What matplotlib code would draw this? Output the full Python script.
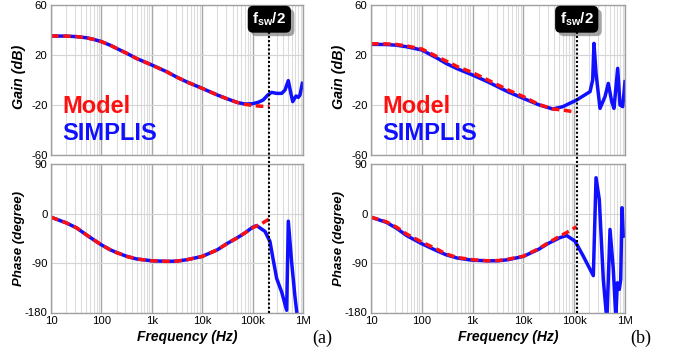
import numpy as np
import matplotlib
matplotlib.use("Agg")
import matplotlib.pyplot as plt
from matplotlib.lines import Line2D
from matplotlib import transforms, patheffects
from matplotlib.ticker import LogLocator, FixedLocator, FixedFormatter, NullFormatter

plt.rcParams['font.family'] = ['Liberation Sans', 'DejaVu Sans']
plt.rcParams['mathtext.fontset'] = 'custom'
plt.rcParams['mathtext.rm'] = 'Liberation Sans'
plt.rcParams['mathtext.bf'] = 'Liberation Sans:bold'

# ---------------- data: panel (a) ----------------
a_model_f = [10, 20, 32, 50, 70, 100, 150, 200, 320, 500, 1e3, 2e3, 3.2e3, 5e3, 1e4, 2e4, 3.2e4, 5e4, 7e4, 1e5, 1.5e5, 2.15e5]
a_model_gain = [35.2, 35.1, 34.7, 33.8, 32.5, 30.7, 27.8, 25.3, 21.3, 17.2, 12.0, 6.5, 2.1, -1.6, -6.7, -12.0, -15.2, -18.0, -19.4, -20.4, -21.0, -21.3]
a_model_phase = [-6.7, -17, -26, -38.6, -47.7, -57, -66, -71, -78, -82.7, -86, -87, -86.5, -84, -78, -66, -54, -44, -35.5, -26, -18.4, -10]

a_sim_gain_f = [10, 20, 32, 50, 70, 100, 150, 200, 320, 500, 1e3, 2e3, 3.2e3, 5e3, 1e4, 2e4, 3.2e4, 5e4, 7e4,
                1e5, 1.3e5, 1.62e5, 2e5, 2.39e5, 3e5, 3.78e5, 4.4e5, 5.11e5, 5.7e5, 6.25e5, 7.27e5, 8.07e5, 8.71e5, 9.69e5]
a_sim_gain = [35.2, 35.1, 34.7, 33.8, 32.5, 30.7, 27.8, 25.3, 21.3, 17.2, 12.0, 6.5, 2.1, -1.6, -6.7, -12.0, -15.2, -18.0, -19.2,
              -19.0, -17.8, -16.0, -12.0, -9.9, -10.7, -10.7, -8.0, -0.5, -10.0, -17.3, -12.8, -13.9, -12.0, -2.7]
a_sim_phase_f = [10, 20, 32, 50, 70, 100, 150, 200, 320, 500, 1e3, 2e3, 3.2e3, 5e3, 1e4, 2e4, 3.2e4, 5e4, 7e4,
                 1e5, 1.2e5, 1.76e5, 2.21e5, 2.57e5, 3e5, 3.78e5, 4.74e5, 5.11e5, 5.97e5, 6.94e5, 8e5]
a_sim_phase = [-6.7, -17, -26, -38.6, -47.7, -57, -66, -71, -78, -82.7, -86, -87, -86.5, -84, -78, -66, -54, -44, -35.5,
               -25, -22, -32.5, -51, -84.5, -118, -143, -176, -14, -90, -152, -200]
a_fsw_half = 2.15e5

# ---------------- data: panel (b) ----------------
b_model_f = [10, 20, 32, 50, 100, 200, 300, 500, 1e3, 2e3, 5e3, 1e4, 2e4, 3.8e4, 6e4, 1.12e5]
b_model_gain = [29.0, 28.9, 28.4, 27.3, 24.8, 18.7, 15.2, 10.7, 5.9, 0.0, -8.0, -13.3, -19.5, -23.2, -24.0, -25.9]
b_model_phase_f = [10, 20, 32, 50, 100, 200, 300, 500, 1e3, 2e3, 3.2e3, 5e3, 1e4, 2e4, 3e4, 5e4, 7e4, 1.12e5]
b_model_phase = [-6.7, -15, -25, -37.3, -52, -65, -73.5, -80, -84, -86, -85.5, -83, -77.6, -64, -54, -42, -35, -24]

b_sim_gain_f = [10, 20, 32, 50, 100, 200, 300, 500, 1e3, 2e3, 5e3, 1e4, 2e4, 2.4e4, 3.8e4, 6e4, 1.12e5,
                2.05e5, 2.31e5, 2.45e5, 2.69e5, 3.22e5, 4.04e5, 4.69e5, 5.47e5, 6.07e5, 7.18e5, 7.98e5, 9.02e5, 1e6]
b_sim_gain = [28.5, 28.4, 27.8, 26.6, 24.0, 17.5, 13.3, 9.0, 4.0, -1.5, -9.5, -14.7, -19.8, -20.8, -23.2, -21.3, -16.0,
              -9.3, 0.0, 29.3, 5.3, -22.7, -13.3, -2.7, -17.3, -22.7, 9.3, -20.0, -21.3, -1.3]
b_sim_phase_f = [10, 20, 32, 50, 100, 200, 300, 500, 1e3, 2e3, 3.2e3, 5e3, 1e4, 2e4, 3e4, 5.2e4, 7.1e4,
                 1.04e5, 1.51e5, 2.38e5, 2.69e5, 3.12e5, 3.74e5, 4.4e5, 5.07e5, 5.89e5, 6.6e5, 7.06e5, 7.73e5, 8.23e5, 8.73e5, 9.27e5]
b_sim_phase = [-6.7, -16, -27, -40, -55, -68, -75, -81, -85, -86, -86, -84, -78, -65, -55, -44, -40,
               -50.4, -77.6, -113, 65, 25.5, -120, -195, -29, -102, -190, -126, -138, -120, 10.5, -41]
b_fsw_half = 1.12e5

xticks = [10, 100, 1e3, 1e4, 1e5, 1e6]
xticklabels = ["10", "100", "1k", "10k", "100k", "1M"]
gain_ticks = [-60, -20, 20, 60]
phase_ticks = [-180, -90, 0, 90]

W, H = 686, 351
fig = plt.figure(figsize=(W / 100, H / 100), dpi=100)

BLUE = '#1010ff'
RED = '#ff1010'


def px_axes(x0, x1, y0, y1):
    return fig.add_axes([x0 / W, 1 - y1 / H, (x1 - x0) / W, (y1 - y0) / H])


def style(ax, yticks, ylim, show_x):
    ax.set_xscale('log')
    ax.set_xlim(10, 1e6)
    ax.set_ylim(*ylim)
    ax.xaxis.set_major_locator(FixedLocator(xticks))
    ax.xaxis.set_minor_locator(LogLocator(base=10, subs=np.arange(2, 10)))
    ax.xaxis.set_minor_formatter(NullFormatter())
    if show_x:
        ax.xaxis.set_major_formatter(FixedFormatter(xticklabels))
    else:
        ax.xaxis.set_major_formatter(NullFormatter())
    ax.set_yticks(yticks)
    ax.set_yticklabels([str(t) for t in yticks])
    ax.tick_params(which='both', length=0, labelsize=8.2, pad=2.5)
    ax.grid(which='minor', axis='x', color='#dcdcdc', lw=0.8)
    ax.grid(which='major', axis='x', color='#a8a8a8', lw=1.0)
    ax.grid(which='major', axis='y', color='#d4d4d4', lw=0.8)
    ax.set_axisbelow(True)
    for s in ax.spines.values():
        s.set_color('#a0a0a0')
        s.set_linewidth(1.0)


panels = [
    dict(x0=51, x1=303, label='(a)', lab_x=312,
         mf=a_model_f, mg=a_model_gain, mpf=a_model_f, mp=a_model_phase,
         sgf=a_sim_gain_f, sg=a_sim_gain, spf=a_sim_phase_f, sp=a_sim_phase, fsw=a_fsw_half),
    dict(x0=371, x1=625, label='(b)', lab_x=630,
         mf=b_model_f, mg=b_model_gain, mpf=b_model_phase_f, mp=b_model_phase,
         sgf=b_sim_gain_f, sg=b_sim_gain, spf=b_sim_phase_f, sp=b_sim_phase, fsw=b_fsw_half),
]

for p in panels:
    axg = px_axes(p['x0'], p['x1'], 5, 155)
    axp = px_axes(p['x0'], p['x1'], 164, 312.5)
    style(axg, gain_ticks, (-60, 60), False)
    style(axp, phase_ticks, (-180, 90), True)

    axg.plot(p['sgf'], p['sg'], color=BLUE, lw=2.5, solid_joinstyle='round')
    axg.plot(p['mf'], p['mg'], color=RED, lw=2.5, ls=(0, (2.2, 1.3)))
    axp.plot(p['spf'], p['sp'], color=BLUE, lw=2.5, solid_joinstyle='round')
    axp.plot(p['mpf'], p['mp'], color=RED, lw=2.5, ls=(0, (2.2, 1.3)))

    w = p['x1'] - p['x0']
    axg.set_ylabel('Gain (dB)', fontsize=10.3, fontweight='bold', fontstyle='italic')
    axg.yaxis.set_label_coords(-25 / w, 0.52)
    axp.set_ylabel('Phase (degree)', fontsize=9.5, fontweight='bold', fontstyle='italic')
    axp.yaxis.set_label_coords(-26 / w, 0.5)
    axp.set_xlabel('Frequency (Hz)', fontsize=10, fontweight='bold', fontstyle='italic')
    axp.xaxis.set_label_coords(0.5 + 10 / w, -0.115)

    axg.text(0.044, 0.28, 'Model', transform=axg.transAxes, color=RED,
             fontsize=17, fontweight='bold', va='baseline', ha='left')
    axg.text(0.044, 0.10, 'SIMPLIS', transform=axg.transAxes, color=BLUE,
             fontsize=17, fontweight='bold', va='baseline', ha='left')

    # fsw/2 marker line spanning both axes
    tr = transforms.blended_transform_factory(axg.transData, fig.transFigure)
    fig.add_artist(Line2D([p['fsw'], p['fsw']], [1 - 312.5 / H, 1 - 30 / H], transform=tr,
                          color='black', lw=1.5, ls=(0, (1, 1))))
    txt = r'$\mathbf{f}_{\mathbf{sw}}\mathbf{/2}$'
    xtr = axg.get_xaxis_transform()
    t = axg.text(p['fsw'], 0.905, txt, transform=xtr, ha='center', va='center', fontsize=11,
                 color='white', bbox=dict(boxstyle='round,pad=0.3,rounding_size=0.35', fc='black', ec='none'),
                 zorder=6)
    t.get_bbox_patch().set_path_effects([
        patheffects.SimplePatchShadow(offset=(2.5, -2.5), shadow_rgbFace='#808080', alpha=0.7),
        patheffects.Normal()])

    fig.text(p['lab_x'] / W, 1 - 338 / H, p['label'], family='Liberation Serif', fontsize=13,
             ha='left', va='center')

fig.savefig('out.png', dpi=100, facecolor='white')
